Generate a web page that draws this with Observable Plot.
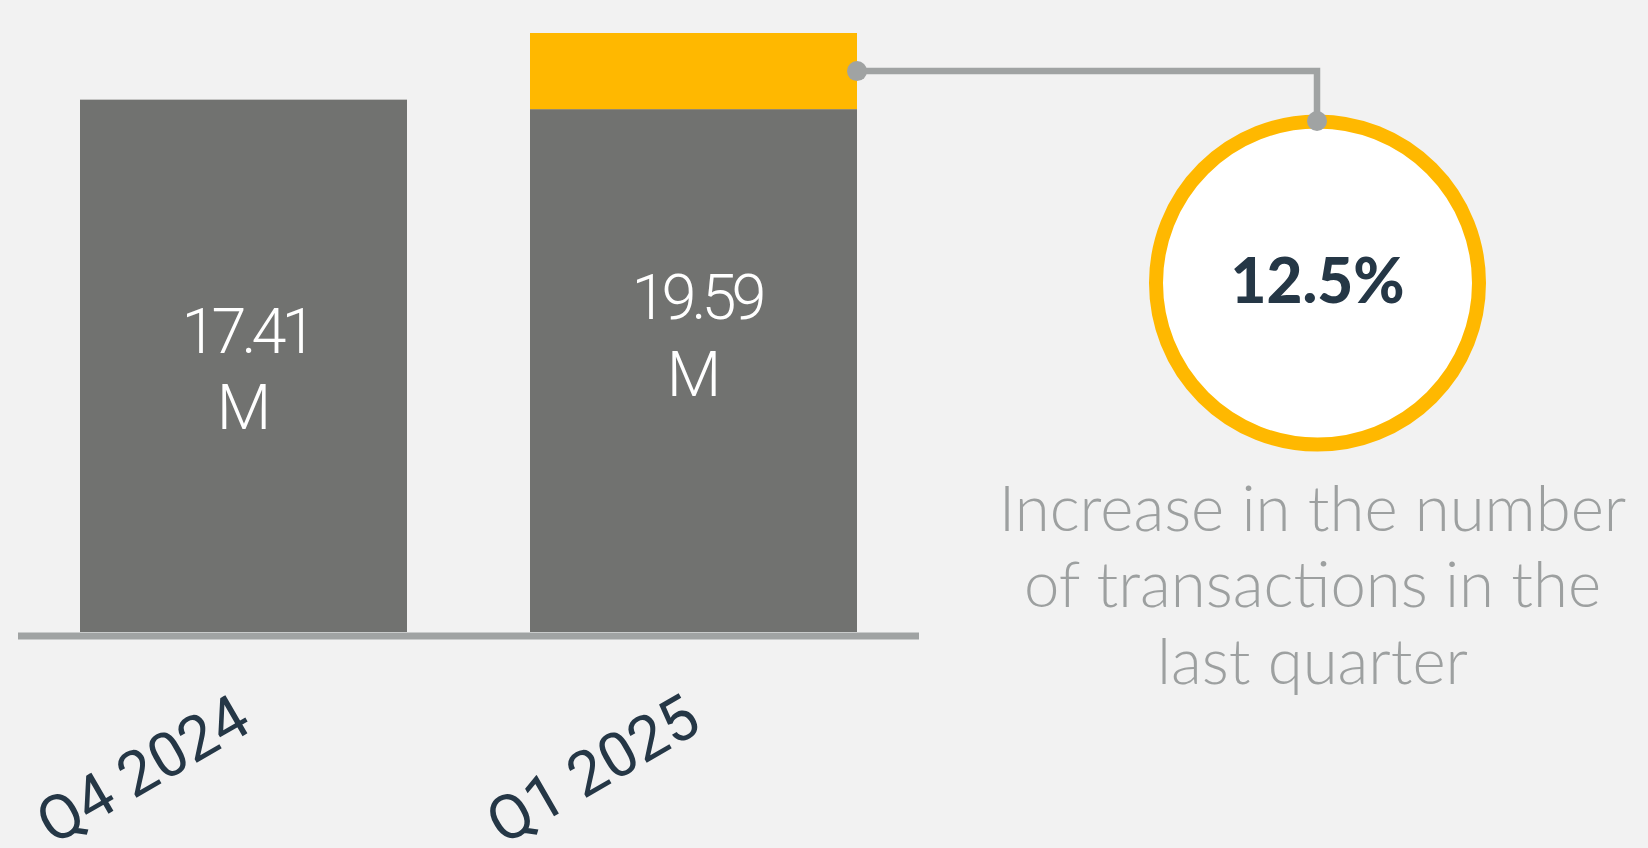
<!DOCTYPE html>
<html>
<head>
<meta charset="utf-8">
<script src="https://cdn.jsdelivr.net/npm/d3@7"></script>
<script src="https://cdn.jsdelivr.net/npm/@observablehq/plot@0.6"></script>
<style>
  html, body { margin: 0; padding: 0; background: #f2f2f2; }
  #chart { width: 1648px; height: 848px; overflow: hidden; }
</style>
</head>
<body>
<div id="chart"></div>
<script>
// ---- data ----
const quarters = ["Q4 2024", "Q1 2025"];
const baseValues = [17.41, 17.1];       // grey part of each bar (M)
const increaseValues = [0, 2.49];       // yellow growth segment (M)
const totals = [17.41, 19.59];          // bar totals (M)
const valueLabels = ["17.41\nM", "19.59\nM"];
const changeLabel = "12.5%";
const captionText = "Increase in the number\nof transactions in the\nlast quarter";

// ---- style / layout ----
const GREY = "#717270", YELLOW = "#FFB800", LINE = "#a0a3a3", NAVY = "#253746", CAPTION = "#9da0a0";
const FONT = "Lato, 'Open Sans', sans-serif";
const FONT2 = "Roboto, Lato, sans-serif";
const W = 1648, H = 848;
const M = {top: 33, right: 729, bottom: 216, left: 18};
const callout = {cx: 1317, cy: 282.5, r: 161.5};

const segments = [];
quarters.forEach((q, i) => {
  segments.push({quarter: q, part: "base", value: baseValues[i]});
  segments.push({quarter: q, part: "increase", value: increaseValues[i]});
});
const barLabels = quarters.map((q, i) => ({quarter: q, total: totals[i], label: valueLabels[i]}));

function findScales(args) {
  return args.find(a => a && typeof a.x === "function" && typeof a.y === "function");
}
function anchorPoint(scales) {
  const i = 1;
  const bw = typeof scales.x.bandwidth === "function" ? scales.x.bandwidth() : scales.x.bandwidth;
  return [scales.x(quarters[i]) + bw, scales.y(baseValues[i] + increaseValues[i] / 2)];
}
// connector from the growth segment to the callout circle
function connector(...args) {
  const [x0, y0] = anchorPoint(findScales(args));
  const x1 = callout.cx, y1 = callout.cy - callout.r;
  const g = d3.create("svg:g");
  g.append("path")
    .attr("d", `M${x0},${y0}H${x1}V${y1}`)
    .attr("fill", "none").attr("stroke", LINE).attr("stroke-width", 6.5);
  return g.node();
}
function connectorDots(...args) {
  const [x0, y0] = anchorPoint(findScales(args));
  const g = d3.create("svg:g").attr("fill", LINE);
  g.append("circle").attr("cx", x0).attr("cy", y0).attr("r", 10);
  g.append("circle").attr("cx", callout.cx).attr("cy", callout.cy - callout.r).attr("r", 10);
  return g.node();
}

const chart = Plot.plot({
  width: W, height: H,
  marginTop: M.top, marginRight: M.right, marginBottom: M.bottom, marginLeft: M.left,
  style: {background: "#f2f2f2", fontFamily: FONT, overflow: "visible"},
  x: {domain: quarters, paddingInner: 0.274, paddingOuter: 0.138},
  y: {domain: [0, 19.59], axis: null},
  marks: [
    Plot.barY(segments, {x: "quarter", y: "value", fill: d => d.part === "base" ? GREY : YELLOW, inset: 0}),
    connector,
    Plot.ruleY([0], {stroke: LINE, strokeWidth: 7, dy: 3.5}),
    Plot.text(barLabels, {x: "quarter", y: d => d.total / 2, text: "label", fill: "white",
      fontSize: 63, fontWeight: 300, lineHeight: 1.22, fontFamily: FONT2}),
    Plot.axisX({tickSize: 0, tickPadding: 80, tickRotate: -30, fontSize: 62, fill: NAVY,
      fontFamily: FONT2, label: null}),
    Plot.dot([changeLabel], {frameAnchor: "top-left", dx: callout.cx - M.left, dy: callout.cy - M.top,
      r: callout.r, fill: "white", stroke: YELLOW, strokeWidth: 14}),
    connectorDots,
    Plot.text([changeLabel], {frameAnchor: "top-left", dx: callout.cx - M.left, dy: callout.cy - M.top,
      text: d => d, textAnchor: "middle", lineAnchor: "middle",
      fontSize: 62, fontWeight: 900, fill: NAVY, fontFamily: FONT}),
    Plot.text([captionText], {frameAnchor: "top-left", dx: 1312 - M.left, dy: 521 - 0.71 * 63.5 - M.top,
      text: d => d, textAnchor: "middle", lineAnchor: "top", lineHeight: 76.5 / 63.5, fontSize: 63.5, fontWeight: 300,
      fill: CAPTION, fontFamily: FONT})
  ]
});
// tighten the digits of the in-bar value labels (the reference font is narrower)
const numberLines = valueLabels.map(s => s.split("\n")[0]);
d3.select(chart).selectAll("text")
  .filter(function() { return numberLines.some(n => this.textContent.startsWith(n)) && this.textContent.endsWith("M"); })
  .each(function() {
    const spans = d3.select(this).selectAll("tspan");
    const target = spans.size() ? spans.filter(function() { return numberLines.includes(this.textContent); }) : d3.select(this);
    target.style("letter-spacing", "-5px").attr("dx", 2.5);
  });
document.getElementById("chart").appendChild(chart);
</script>
</body>
</html>
